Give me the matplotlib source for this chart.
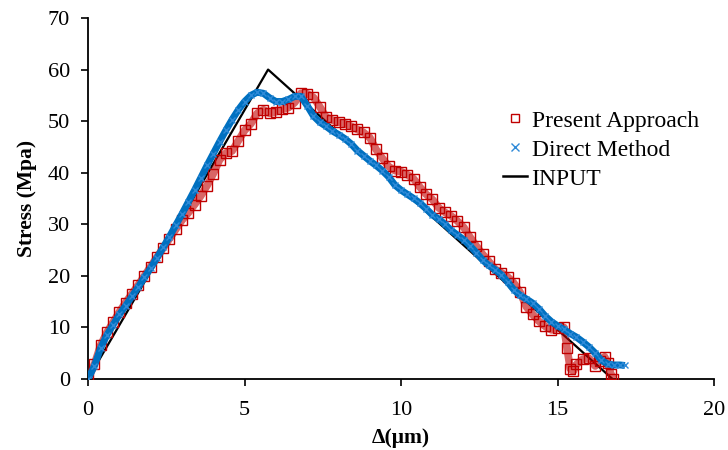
import matplotlib
matplotlib.use("Agg")
import matplotlib.pyplot as plt

# Direct Method (blue x markers)
direct_x = [0, 0.2, 0.4, 0.6, 0.8, 1.0, 1.2, 1.4, 1.6, 1.8, 2.0, 2.2, 2.4, 2.6, 2.8,
            3.0, 3.2, 3.4, 3.6, 3.8, 4.0, 4.2, 4.4, 4.6, 4.8, 5.0, 5.2, 5.4, 5.6, 5.8,
            6.0, 6.2, 6.4, 6.6, 6.8, 7.0, 7.2, 7.4, 7.6, 7.8, 8.0, 8.2, 8.4, 8.6, 8.8,
            9.0, 9.2, 9.4, 9.6, 9.8, 10.0, 10.2, 10.4, 10.6, 10.8, 11.0, 11.2, 11.4, 11.6,
            11.8, 12.0, 12.2, 12.4, 12.6, 12.8, 13.0, 13.2, 13.4, 13.6, 13.8, 14.0, 14.2,
            14.4, 14.6, 14.8, 15.0, 15.2, 15.4, 15.6, 15.8, 16.0, 16.2, 16.4, 16.6, 16.8,
            17.0, 17.15]
direct_y = [0, 2.5, 6.0, 8.5, 10.5, 12.5, 14.2, 16.0, 17.8, 19.7, 21.5, 23.5, 25.5, 27.6, 29.8,
            32.0, 34.3, 36.6, 39.0, 41.4, 43.7, 46.0, 48.2, 50.3, 52.2, 53.8, 55.0, 55.6, 55.4, 54.5,
            53.8, 53.8, 54.2, 54.8, 54.8, 53.0, 51.0, 49.8, 49.0, 48.1, 47.4, 46.6, 45.6, 44.3, 43.3,
            42.3, 41.4, 40.4, 39.2, 37.6, 36.6, 35.8, 35.0, 34.1, 33.0, 31.8, 31.0, 30.0, 28.8,
            27.9, 27.0, 25.8, 24.5, 23.1, 22.0, 21.2, 20.2, 18.8, 17.3, 16.2, 15.5, 14.7,
            13.6, 12.2, 11.1, 10.3, 9.6, 8.8, 8.1, 7.2, 6.2, 5.0, 3.6, 2.9, 2.7,
            2.7, 2.6]

# Present Approach (red hollow squares)
present_x = [0, 0.2, 0.4, 0.6, 0.8, 1.0, 1.2, 1.4, 1.6, 1.8, 2.0, 2.2, 2.4, 2.6, 2.8,
             3.0, 3.2, 3.4, 3.6, 3.8, 4.0, 4.2, 4.4, 4.6, 4.8, 5.0, 5.2, 5.4, 5.6, 5.8,
             6.0, 6.2, 6.4, 6.6, 6.8, 7.0, 7.2, 7.4, 7.6, 7.8, 8.0, 8.2, 8.4, 8.6, 8.8,
             9.0, 9.2, 9.4, 9.6, 9.8, 10.0, 10.2, 10.4, 10.6, 10.8, 11.0, 11.2, 11.4, 11.6,
             11.8, 12.0, 12.2, 12.4, 12.6, 12.8, 13.0, 13.2, 13.4, 13.6, 13.8, 14.0, 14.2,
             14.4, 14.6, 14.8, 15.0, 15.2, 15.3, 15.4, 15.5, 15.6, 15.8, 16.0, 16.2, 16.35,
             16.5, 16.6, 16.7, 16.78]
present_y = [0, 2.8, 6.5, 9.0, 11.0, 13.0, 14.8, 16.5, 18.2, 20.0, 21.8, 23.6, 25.4, 27.2, 29.0,
             30.8, 32.2, 33.8, 35.5, 37.5, 39.8, 42.5, 43.8, 44.2, 46.2, 48.2, 49.5, 51.5, 52.2, 51.5,
             51.8, 52.3, 52.6, 53.6, 55.4, 55.3, 54.6, 52.8, 50.8, 50.2, 49.8, 49.5, 49.0, 48.4, 47.8,
             46.8, 44.5, 42.8, 41.2, 40.4, 40.2, 39.6, 38.8, 37.2, 35.8, 34.8, 33.2, 32.3, 31.6,
             30.6, 29.4, 27.5, 25.8, 24.2, 22.8, 21.3, 20.6, 19.8, 18.6, 16.8, 14.0, 12.5,
             11.2, 10.2, 9.5, 9.8, 10.0, 6.0, 2.0, 1.5, 2.8, 3.8, 4.0, 2.5, 3.5,
             4.3, 3.0, 1.0, 0.0]

# INPUT (black line)
input_x = [0, 5.75, 16.75]
input_y = [0, 60, 0]

x_ticks = [0, 5, 10, 15, 20]
y_ticks = [0, 10, 20, 30, 40, 50, 60, 70]

RED = "#C00000"
BLUE = "#0070C0"

plt.rcParams['font.family'] = ['Liberation Serif', 'DejaVu Serif']

fig = plt.figure(figsize=(7.28, 4.5), dpi=100)
ax = fig.add_axes([0.121, 0.158, 0.860, 0.802])

ax.plot(input_x, input_y, color="black", lw=1.6, zorder=2)
ax.plot(present_x, present_y, color=RED, lw=5.5, alpha=0.6, zorder=3,
        solid_capstyle="butt")
ax.plot(present_x, present_y, ls="none", marker="s", ms=6.5, mfc="none", mec=RED, mew=1.0,
        zorder=4, label="Present Approach")
ax.plot(direct_x, direct_y, color=BLUE, lw=5.0, zorder=5, solid_capstyle="butt")
ax.plot(direct_x, direct_y, ls="none", marker="x", ms=5.0, mec="#2F8AD8", mew=1.0,
        zorder=6, label="Direct Method")
ax.plot([], [], color="black", lw=1.8, label="INPUT")

ax.set_xlim(0, 20)
ax.set_ylim(0, 70)
ax.set_xticks(x_ticks)
ax.set_yticks(y_ticks)
ax.tick_params(direction="out", length=5, width=1.2, labelsize=16, colors="black")
ax.tick_params(axis="x", pad=11)
ax.tick_params(axis="y", pad=8)
for s in ["top", "right"]:
    ax.spines[s].set_visible(False)
for s in ["left", "bottom"]:
    ax.spines[s].set_linewidth(1.3)

ax.set_xlabel("Δ(μm)", fontsize=15.5, fontweight="bold", labelpad=6)
ax.set_ylabel("Stress (Mpa)", fontsize=15.5, fontweight="bold", labelpad=8)

leg = ax.legend(loc="upper left", bbox_to_anchor=(0.663, 0.745), frameon=False, fontsize=17,
                handlelength=1.0, handletextpad=0.2, labelspacing=0.32, borderaxespad=0,
                borderpad=0)
for h in leg.legend_handles[:2]:
    h.set_markersize(5.5)

fig.savefig("out.png", dpi=100)
